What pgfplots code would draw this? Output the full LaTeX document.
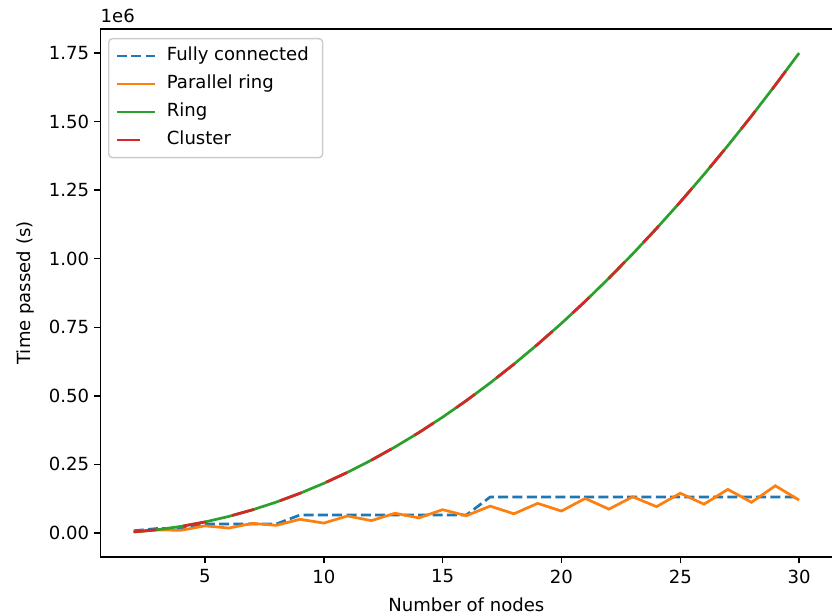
\documentclass[border=0pt]{standalone}
\usepackage{fontspec}
\setmainfont{DejaVu Sans}
\usepackage{pgfplots}
\pgfplotsset{compat=1.18}
\definecolor{c0}{HTML}{1F77B4}
\definecolor{c1}{HTML}{FF7F0E}
\definecolor{c2}{HTML}{2CA02C}
\definecolor{c3}{HTML}{D62728}

\pgfplotstableread{
n fc pr ring cluster
2 8200 4000 4022 4022
3 16400 11000 12066 12066
4 16400 10000 24132 24132
5 32800 26000 40220 40220
6 32800 18000 60330 60330
7 32800 35000 84462 84462
8 32800 28000 112616 112616
9 65600 50000 144792 144792
10 65600 36000 180990 180990
11 65600 62000 221210 221210
12 65600 45000 265452 265452
13 65600 72000 313716 313716
14 65600 55000 366002 366002
15 65600 85000 422310 422310
16 65600 63000 482640 482640
17 131200 98000 546992 546992
18 131200 70000 615366 615366
19 131200 108000 687762 687762
20 131200 80000 764180 764180
21 131200 126000 844620 844620
22 131200 87000 929082 929082
23 131200 132000 1017566 1017566
24 131200 96000 1110072 1110072
25 131200 145000 1206600 1206600
26 131200 105000 1307150 1307150
27 131200 159000 1411722 1411722
28 131200 112000 1520316 1520316
29 131200 172000 1632932 1632932
30 131200 120000 1749570 1749570
}\data

\begin{document}
\begin{tikzpicture}
\begin{axis}[
  name=ax,
  scale only axis,
  width=527.0pt, height=380.2pt,
  xmin=0.6, xmax=31.4,
  ymin=-87500, ymax=1837500,
  xtick={5,10,15,20,25,30},
  ytick={0,250000,500000,750000,1000000,1250000,1500000,1750000},
  yticklabels={0.00,0.25,0.50,0.75,1.00,1.25,1.50,1.75},
  scaled y ticks=false,
  /pgf/number format/assume math mode=true,
  tick align=outside,
  tick pos=left,
  major tick length=4.55pt,
  every tick/.style={black, line width=1.04pt},
  axis line style={line width=1.04pt},
  ticklabel style={font=\fontsize{13}{15.6}\selectfont},
  xticklabel style={yshift=-1pt},
  xlabel={Number of nodes},
  ylabel={Time passed (s)},
  every axis x label/.style={at={([yshift=-34.5pt]axis description cs:0.5,0)}, anchor=center, font=\fontsize{13}{15.6}\selectfont},
  every axis y label/.style={at={([xshift=-54pt]axis description cs:0,0.5)}, anchor=center, rotate=90, font=\fontsize{13}{15.6}\selectfont},
  legend cell align=left,
  legend image code/.code={\draw[#1] (0pt,0pt) -- (27.4pt,0pt);},
  legend style={
    at={(axis description cs:0,1)}, anchor=north west,
    xshift=5.5pt, yshift=-6.5pt,
    draw=black!20, line width=1.04pt, rounded corners=2.6pt, fill=white, fill opacity=0.8, text opacity=1,
    inner xsep=5pt, inner ysep=6.5pt,
    row sep=8.06pt, column sep=0pt,
    font=\fontsize{13}{15.6}\selectfont,
    nodes={inner sep=0pt, text height=9.5pt, text depth=2.6pt},
  },
]
\addplot[c0, line width=1.95pt, dash pattern=on 7.2pt off 3.12pt] table[x=n, y=fc] {\data};
\addlegendentry{\hspace{7.5pt}Fully connected\kern5pt}
\addplot[c1, line width=1.95pt] table[x=n, y=pr] {\data};
\addlegendentry{\hspace{7.5pt}Parallel ring}
\addplot[c2, line width=1.95pt] table[x=n, y=ring] {\data};
\addlegendentry{\hspace{7.5pt}Ring}
\addplot[c3, line width=1.95pt, dash pattern=on 16.5pt off 19.5pt] table[x=n, y=cluster] {\data};
\addlegendentry{\hspace{7.5pt}Cluster}
\end{axis}
\node[anchor=base west, inner sep=0pt, font=\fontsize{13}{15.6}\selectfont] at ([yshift=4.6pt]ax.north west) {1e6};
\pgfresetboundingbox
\path[use as bounding box] (-72.29pt,-42.48pt) rectangle (526.75pt,401.04pt);
\end{tikzpicture}
\end{document}
